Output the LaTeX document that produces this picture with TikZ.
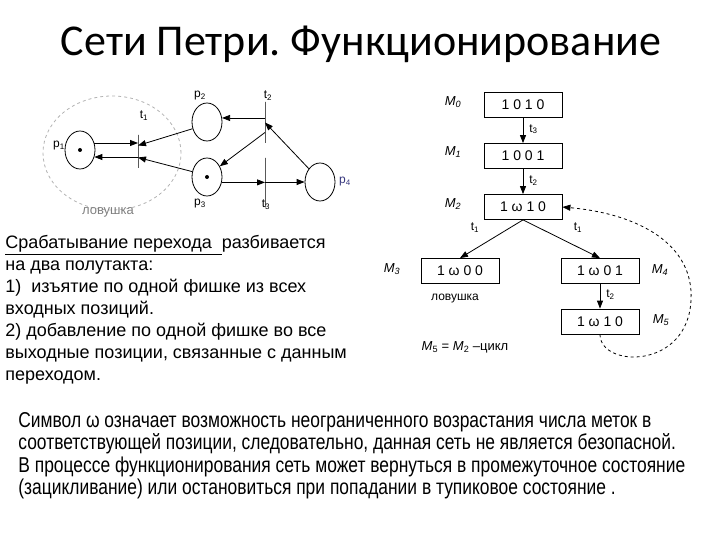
\documentclass[tikz,border=0pt]{standalone}
\usepackage{fontspec}
\setmainfont{Liberation Sans}
\newfontfamily\titlefont{Carlito}
\newfontfamily\narrowfont[FakeStretch=0.81]{Liberation Sans}
\usetikzlibrary{shapes.geometric,arrows.meta}
\frenchspacing

\tikzset{
  place/.style={draw,ellipse,minimum width=30pt,minimum height=38pt,inner sep=0pt},
  trans/.style={draw,minimum width=0pt,inner sep=0pt},
  arc/.style={-{Triangle[length=8pt,width=6pt]}},
  lbl/.style={font=\fontsize{12}{12}\selectfont,inner sep=0pt},
  markbox/.style={draw,minimum width=78pt,minimum height=25pt,inner sep=0pt,font=\fontsize{14}{14}\selectfont},
  mlbl/.style={font=\fontsize{13}{13}\selectfont\itshape,inner sep=0pt},
}

\begin{document}
\begin{tikzpicture}[x=1pt,y=-1pt,line width=0.8pt]
  \useasboundingbox (0,0) rectangle (720,540);
  \node[font=\titlefont\fontsize{44}{44}\selectfont] (title) at (361,44) {Сети Петри. Функционирование};
  % Petri net
  \node[draw,gray!60,dashed,ellipse,minimum width=138pt,minimum height=114pt] (trap) at (112,153) {};
  \node[text=gray,font=\fontsize{13}{13}\selectfont] (traplbl) at (108,212) {ловушка};
  \node[place] (p1) at (80,150) {};
  \node[place] (p2) at (207,122) {};
  \node[place] (p3) at (207,177) {};
  \node[place] (p4) at (320,182) {};
  \fill (p1.center) circle (2pt) (p3.center) circle (2pt);
  \node[trans,minimum height=33pt] (t1) at (138,151.5) {};
  \node[trans,minimum height=41pt] (t2) at (265,122.5) {};
  \node[trans,minimum height=49pt] (t3) at (265,182.5) {};
  \node[lbl] (p1lbl) at (59,146) {p\textsubscript{1}};
  \node[lbl] (p2lbl) at (200,96) {p\textsubscript{2}};
  \node[lbl] (p3lbl) at (200,204) {p\textsubscript{3}};
  \node[lbl,text=gray!60!blue!70!black] (p4lbl) at (345,182) {p\textsubscript{4}};
  \node[lbl] (t1lbl) at (144,116) {t\textsubscript{1}};
  \node[lbl] (t2lbl) at (268,96) {t\textsubscript{2}};
  \node[lbl] (t3lbl) at (266,205) {t\textsubscript{3}};
  \draw[arc] (p1.26) -- (p1.26 -| t1.center);
  \draw[arc] (p1.-26 -| t1.center) -- (p1.-26);
  \draw[arc] (p2.205) -- ([yshift=6pt]t1.center);
  \draw[arc] (p3.160) -- ([yshift=-6pt]t1.center);
  \draw[arc] (p2.15 -| t2.center) -- (p2.15);
  \draw[arc] ([yshift=-10pt]t2.center) -- (p3.40);
  \draw[arc] (p4.130) -- (t2.center);
  \draw[arc] (p3.-20) -- (p3.-20 -| t3.center);
  \draw[arc] (t3.center |- p4.west) -- (p4.west);
  % Left-hand side text
  \node[anchor=north west,align=left,inner sep=0pt,font=\fontsize{18}{22}\selectfont] (rules) at (5,235)
    {\underline{Срабатывание перехода\ \ }разбивается\\
     на два полутакта:\\
     1)\ \ изъятие по одной фишке из всех\\
     входных позиций.\\
     2) добавление по одной фишке во все\\
     выходные позиции, связанные с данным\\
     переходом.};
  % Reachability tree
  \node[markbox] (M0) at (523,105) {1 0 1 0};
  \node[markbox] (M1) at (523,156) {1 0 0 1};
  \node[markbox] (M2) at (523,207) {1 ω 1 0};
  \node[markbox] (M3) at (460,271) {1 ω 0 0};
  \node[markbox] (M4) at (600,271) {1 ω 0 1};
  \node[markbox] (M5) at (600,321.5) {1 ω 1 0};
  \node[mlbl] (M0lbl) at (453,102) {M\textsubscript{0}};
  \node[mlbl] (M1lbl) at (453,152) {M\textsubscript{1}};
  \node[mlbl] (M2lbl) at (453,204) {M\textsubscript{2}};
  \node[mlbl] (M3lbl) at (392,269) {M\textsubscript{3}};
  \node[mlbl] (M4lbl) at (660,270) {M\textsubscript{4}};
  \node[mlbl] (M5lbl) at (661,320) {M\textsubscript{5}};
  \draw[arc] (M0) -- (M1) node[lbl,pos=0.45,right=6pt] (e01) {t\textsubscript{3}};
  \draw[arc] (M1) -- (M2) node[lbl,pos=0.45,right=6pt] (e12) {t\textsubscript{2}};
  \draw[arc] (M2.south) -- (M3.north);
  \draw[arc] (M2.south) -- (M4.north);
  \draw[arc] (M4) -- (M5) node[lbl,pos=0.45,right=6pt] (e45) {t\textsubscript{2}};
  \node[lbl] (e23) at (475,228) {t\textsubscript{1}};
  \node[lbl] (e24) at (578,228) {t\textsubscript{1}};
  \node[font=\fontsize{12}{12}\selectfont,inner sep=0pt] (trap2) at (455,299) {ловушка};
  \node[font=\fontsize{13}{13}\selectfont,inner sep=0pt] (cycle) at (465,347) {\textit{M}\textsubscript{5} = \textit{M}\textsubscript{2} –цикл};
  \draw[arc,dashed] (M5.south) .. controls (600,368) and (688,370) .. (691,300)
    .. controls (694,245) and (640,214) .. (M2.east);
  % Bottom text
  \node[anchor=north west,align=left,inner sep=0pt,font=\narrowfont\fontsize{21.5}{22.5}\selectfont] (note) at (18,412)
    {Символ ω означает возможность неограниченного возрастания числа меток в\\
     соответствующей позиции, следовательно, данная сеть не является безопасной.\\
     В процессе функционирования сеть может вернуться в промежуточное состояние\\
     (зацикливание) или остановиться при попадании в тупиковое состояние .};
\end{tikzpicture}
\end{document}
